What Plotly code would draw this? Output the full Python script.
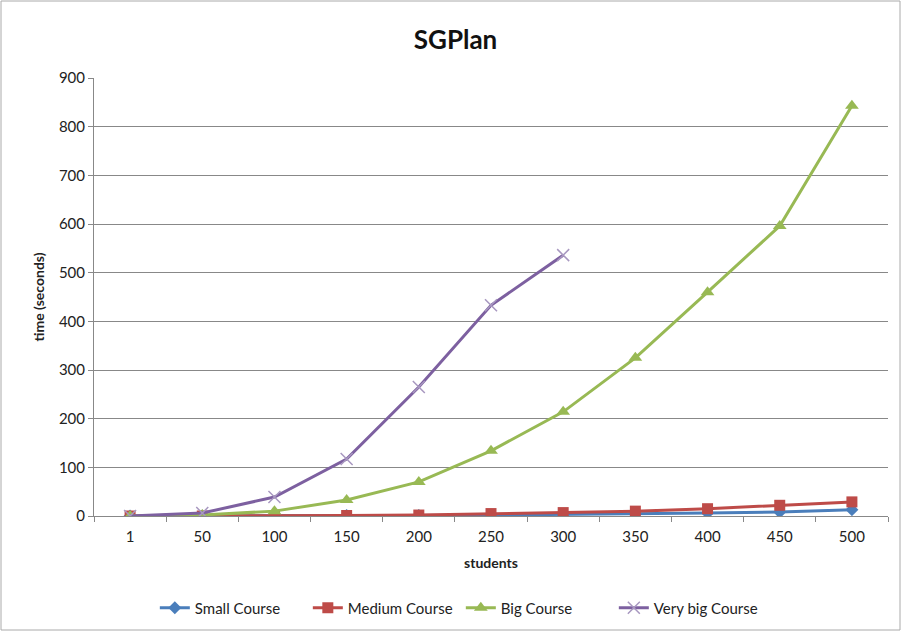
import plotly.graph_objects as go

students = ["1", "50", "100", "150", "200", "250", "300", "350", "400", "450", "500"]
small_course = [0, 0, 0, 1, 1, 2, 3, 4, 6, 8, 13]
medium_course = [0, 0, 0, 1, 2, 5, 7, 10, 15, 22, 29]
big_course = [0, 2, 10, 33, 70, 134, 214, 325, 460, 596, 843]
very_big_course = [0, 6, 39, 117, 265, 433, 536]

FONT = "Lato"

fig = go.Figure()
fig.add_trace(go.Scatter(x=students, y=small_course, name="Small Course", mode="lines+markers",
                         line=dict(color="#4A7EBB", width=3),
                         marker=dict(symbol="diamond", size=10, color="#4A7EBB")))
fig.add_trace(go.Scatter(x=students, y=medium_course, name="Medium Course", mode="lines+markers",
                         line=dict(color="#BE4B48", width=3),
                         marker=dict(symbol="square", size=11, color="#BE4B48")))
fig.add_trace(go.Scatter(x=students, y=big_course, name="Big Course", mode="lines+markers",
                         line=dict(color="#98B954", width=3),
                         marker=dict(symbol="triangle-up", size=12, color="#98B954")))
fig.add_trace(go.Scatter(x=students[:len(very_big_course)], y=very_big_course, name="Very big Course",
                         mode="lines+markers",
                         line=dict(color="#7D60A0", width=3),
                         marker=dict(symbol="x-thin", size=12, color="#7D60A0",
                                     line=dict(color="#A898C0", width=1.5))))

fig.update_layout(
    width=902, height=632,
    margin=dict(l=94, r=14, t=78, b=116, autoexpand=False),
    paper_bgcolor="white", plot_bgcolor="white",
    font=dict(family=FONT, size=14, color="#222222"),
    title=dict(text="<b>SGPlan</b>", x=0.505, xanchor="center", y=0.937, yanchor="middle",
               font=dict(family=FONT, size=26, color="#111111")),
    showlegend=True,
    legend=dict(orientation="h", x=0.462, xanchor="center", y=-0.21, yanchor="middle",
                font=dict(family=FONT, size=15, color="#222222"),
                entrywidth=108, entrywidthmode="pixels",
                traceorder="normal"),
    xaxis=dict(type="category", range=[-0.5, 10.5], tickson="boundaries", ticks="outside", ticklen=5,
               tickcolor="#888888", showline=True, linecolor="#888888", linewidth=1,
               showgrid=False, tickfont=dict(size=15), automargin=False, ticklabelstandoff=7,
               title=dict(text="<b>students</b>", font=dict(size=14), standoff=14)),
    yaxis=dict(range=[0, 900], dtick=100, ticks="outside", ticklen=5, tickcolor="#888888",
               showline=True, linecolor="#888888", linewidth=1,
               showgrid=True, gridcolor="#888888", gridwidth=1, zeroline=False,
               tickfont=dict(size=15), automargin=False,
               title=dict(text="<b>time (seconds)</b>", font=dict(size=14), standoff=10)),
    shapes=[dict(type="rect", xref="paper", yref="paper", x0=-93/794, x1=1+12/794,
                 y0=-114/438, y1=1+77/438, line=dict(color="#AAAAAA", width=1))],
)

fig.write_html("out.html", config={"displayModeBar": False},
               post_script="document.body.style.margin='0';")
